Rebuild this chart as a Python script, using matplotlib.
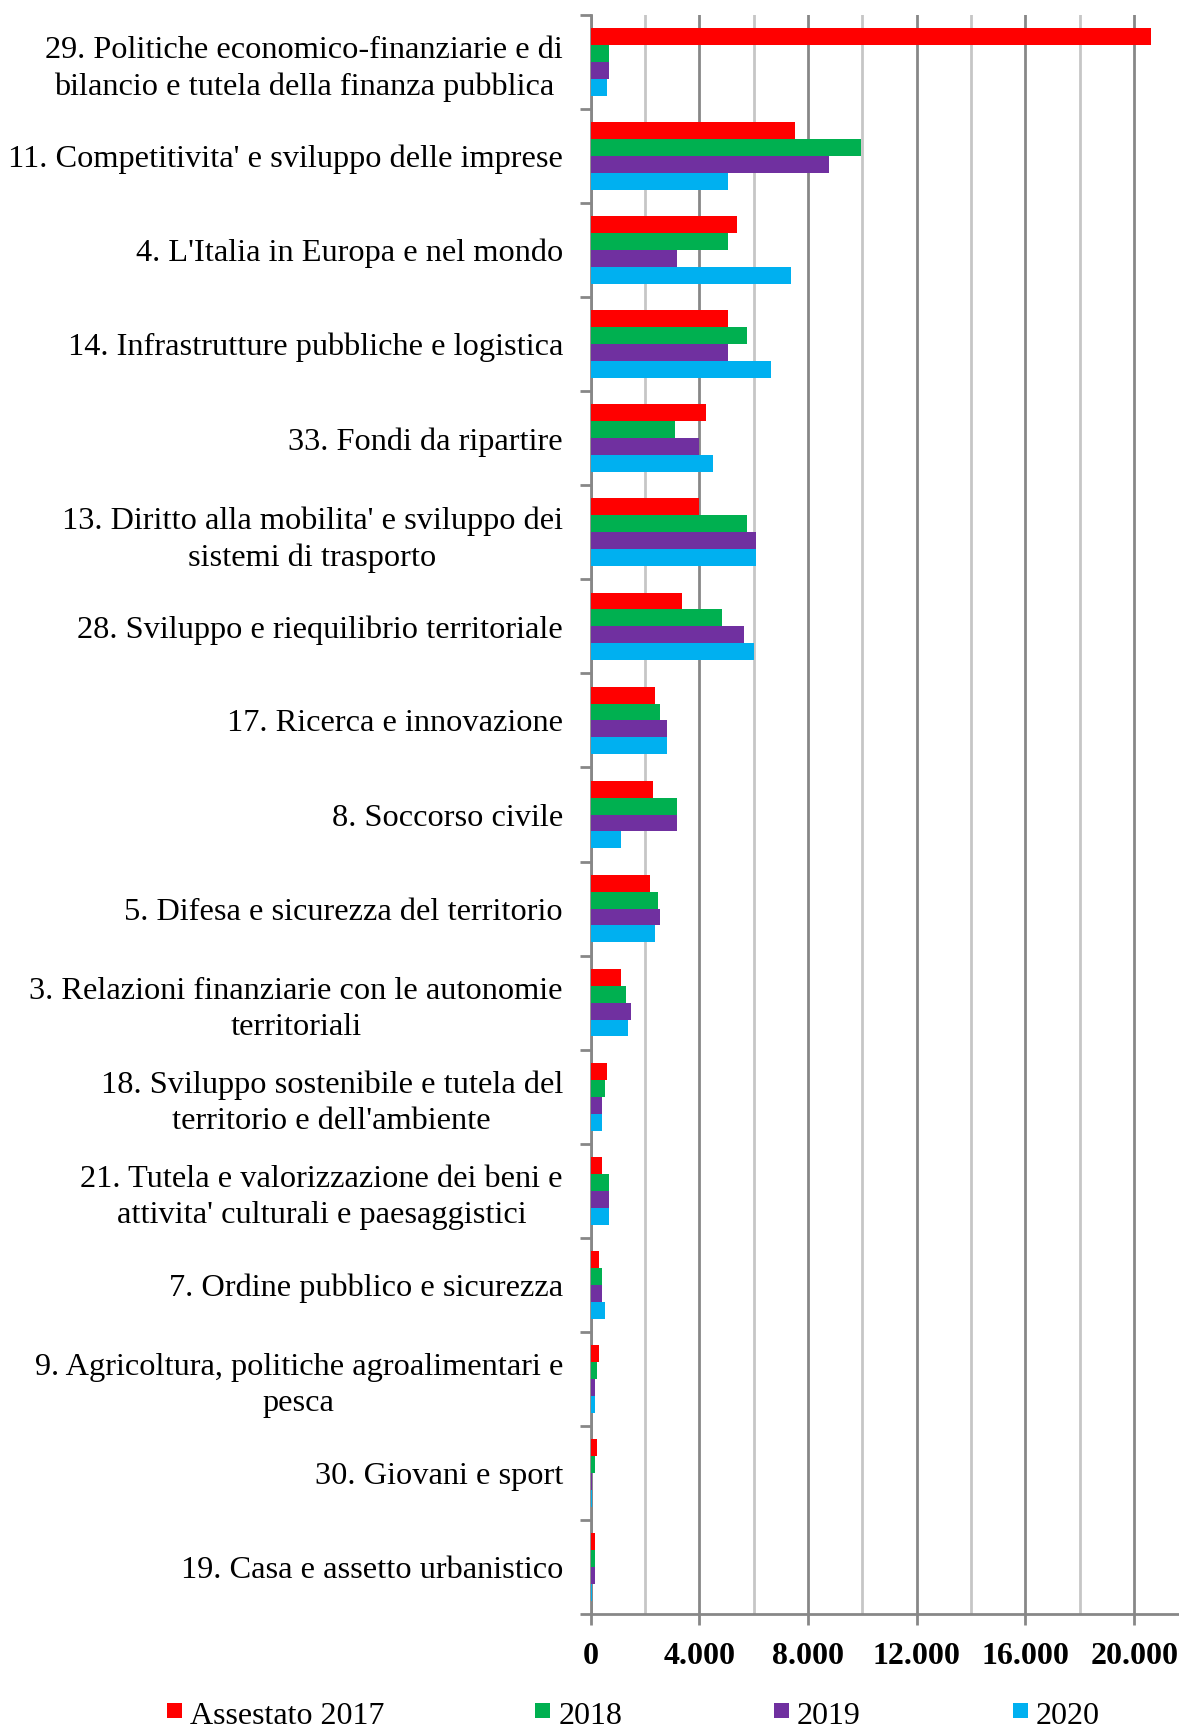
import matplotlib
matplotlib.use('Agg')
import matplotlib.pyplot as plt
import numpy as np
from matplotlib.patches import Rectangle
from matplotlib.ticker import FixedLocator, FuncFormatter

categories = [
    "29. Politiche economico-finanziarie e di\nbilancio e tutela della finanza pubblica",
    "11. Competitivita' e sviluppo delle imprese",
    "4. L'Italia in Europa e nel mondo",
    "14. Infrastrutture pubbliche e logistica",
    "33. Fondi da ripartire",
    "13. Diritto alla mobilita' e sviluppo dei\nsistemi di trasporto",
    "28. Sviluppo e riequilibrio territoriale",
    "17. Ricerca e innovazione",
    "8. Soccorso civile",
    "5. Difesa e sicurezza del territorio",
    "3. Relazioni finanziarie con le autonomie\nterritoriali",
    "18. Sviluppo sostenibile e tutela del\nterritorio e dell'ambiente",
    "21. Tutela e valorizzazione dei beni e\nattivita' culturali e paesaggistici",
    "7. Ordine pubblico e sicurezza",
    "9. Agricoltura, politiche agroalimentari e\npesca",
    "30. Giovani e sport",
    "19. Casa e assetto urbanistico",
]

series_names = ["Assestato 2017", "2018", "2019", "2020"]

v2017 = [20620, 7520, 5400, 5040, 4250, 3990, 3350, 2380, 2280, 2190, 1130, 590, 420, 320, 320, 240, 140]
v2018 = [680, 9940, 5040, 5750, 3090, 5750, 4850, 2550, 3160, 2460, 1310, 510, 690, 420, 240, 140, 140]
v2019 = [690, 8780, 3160, 5040, 3990, 6100, 5650, 2810, 3160, 2550, 1490, 420, 690, 420, 140, 40, 140]
v2020 = [590, 5040, 7360, 6640, 4500, 6100, 6020, 2810, 1110, 2380, 1390, 420, 690, 510, 140, 40, 30]

x_major = [0, 4000, 8000, 12000, 16000, 20000]
x_minor = [2000, 6000, 10000, 14000, 18000]

colors = ["#FF0000", "#00B050", "#7030A0", "#00B0F0"]

plt.rcParams['font.family'] = ['Liberation Serif', 'DejaVu Serif']

W, H = 1179, 1728
fig = plt.figure(figsize=(W / 100, H / 100), dpi=100)
x0_px, top_px, bot_px = 590.7, 15, 1614
ax = fig.add_axes([x0_px / W, 1 - bot_px / H, 1 - x0_px / W, (bot_px - top_px) / H])

n = len(categories)
y = np.arange(n)
h = 0.18
series = [v2017, v2018, v2019, v2020]
for i, (vals, c, name) in enumerate(zip(series, colors, series_names)):
    ax.barh(y + (i - 1.5) * h, vals, height=h, color=c, linewidth=0, label=name, zorder=3)

ax.set_ylim(n - 0.5, -0.5)
ax.set_xlim(0, 21650)

gridc_dark = "#878787"
gridc_light = "#c6c6c6"

# x axis
ax.xaxis.set_major_locator(FixedLocator(x_major))
ax.xaxis.set_minor_locator(FixedLocator(x_minor))
ax.xaxis.set_major_formatter(FuncFormatter(lambda v, p: f"{v:,.0f}".replace(",", ".")))
ax.tick_params(axis='x', which='major', length=8, width=2, color=gridc_dark, pad=12,
               labelsize=23)
ax.tick_params(axis='x', which='minor', length=0)
for lab in ax.get_xticklabels():
    lab.set_fontweight('bold')
ax.grid(axis='x', which='major', color=gridc_dark, linewidth=2, zorder=0)
ax.grid(axis='x', which='minor', color=gridc_light, linewidth=2, zorder=0)
ax.set_axisbelow(True)

# y axis: ticks at category boundaries, labels at centers
ax.yaxis.set_major_locator(FixedLocator(np.arange(-0.5, n + 0.5, 1.0)))
ax.yaxis.set_major_formatter(FuncFormatter(lambda v, p: ""))
ax.yaxis.set_minor_locator(FixedLocator(y))
ax.yaxis.set_minor_formatter(FuncFormatter(lambda v, p: categories[int(round(v))]))
ax.tick_params(axis='y', which='major', length=8, width=2, color=gridc_dark)
ax.tick_params(axis='y', which='minor', length=0, pad=20, labelsize=23.3)
for lab in ax.yaxis.get_minorticklabels():
    lab.set_multialignment('center')
    lab.set_linespacing(1.32)

for s in ['top', 'right']:
    ax.spines[s].set_visible(False)
for s in ['left', 'bottom']:
    ax.spines[s].set_color(gridc_dark)
    ax.spines[s].set_linewidth(2)

# legend (manual, Excel-like spacing)
leg_sq_x = [167, 535, 774, 1013]
leg_tx_x = [190, 559, 797, 1036]
sq_top, sq_bot = 1703, 1718
for name, c, sx, tx in zip(series_names, colors, leg_sq_x, leg_tx_x):
    fig.add_artist(Rectangle((sx / W, 1 - sq_bot / H), 15 / W, (sq_bot - sq_top) / H,
                             transform=fig.transFigure, facecolor=c, edgecolor='none'))
    fig.text(tx / W, 1 - 1724 / H, name, fontsize=23, ha='left', va='baseline')

fig.savefig("out.png", dpi=100)
